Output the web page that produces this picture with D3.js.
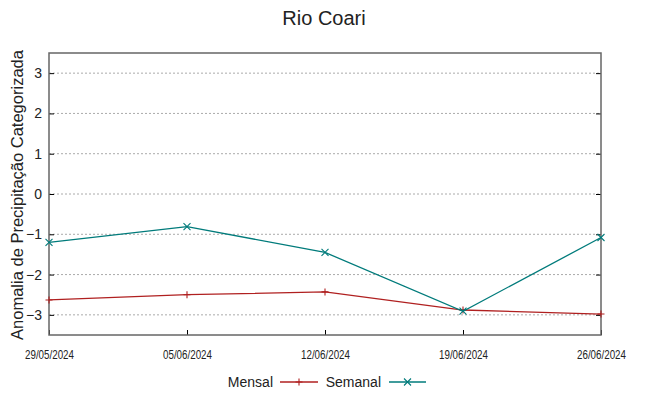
<!DOCTYPE html>
<html>
<head>
    <meta charset="utf-8">
    <title>Rio Coari</title>
    <style>
        body { margin: 0; background: white; }
        text { font-family: "Liberation Sans", Arial, sans-serif; fill: #222; }
    </style>
    <script src="https://d3js.org/d3.v7.min.js"></script>
</head>
<body>
<svg id="chart" width="649" height="396"></svg>
<script>
    // data
    var dates = ["29/05/2024", "05/06/2024", "12/06/2024", "19/06/2024", "26/06/2024"];
    var mensal = [-2.63, -2.5, -2.43, -2.88, -2.98];
    var semanal = [-1.2, -0.81, -1.45, -2.91, -1.08];
    var yTicks = [-3, -2, -1, 0, 1, 2, 3];

    var margin = {top: 53, right: 48, bottom: 61, left: 49};
    var svg = d3.select("#chart");
    var width = 649 - margin.left - margin.right,
        height = 396 - margin.top - margin.bottom;

    var g = svg.append("g")
        .attr("transform", "translate(" + margin.left + "," + margin.top + ")");

    var x = d3.scalePoint().domain(dates).range([0, width]);
    var y = d3.scaleLinear().domain([-3.5, 3.5]).range([height, 0]);

    // grid
    g.selectAll(".grid").data(yTicks).join("line")
        .attr("class", "grid")
        .attr("x1", 0).attr("x2", width)
        .attr("y1", d => y(d)).attr("y2", d => y(d))
        .attr("stroke", "#aaa").attr("stroke-width", 1)
        .attr("stroke-dasharray", "2,2");

    // y axis (ticks inside, mirrored)
    var yl = g.append("g").call(d3.axisLeft(y).tickValues(yTicks).tickSize(-5).tickPadding(7).tickFormat(d3.format("d")));
    yl.select(".domain").remove();
    yl.selectAll("text").style("font-size", "14px").attr("fill", "#222");
    yl.selectAll("line").attr("stroke", "#000");
    var yr = g.append("g").attr("transform", "translate(" + width + ",0)")
        .call(d3.axisRight(y).tickValues(yTicks).tickSize(-5).tickFormat(""));
    yr.select(".domain").remove();
    yr.selectAll("line").attr("stroke", "#000");

    // x axis
    var xb = g.append("g").attr("transform", "translate(0," + height + ")")
        .call(d3.axisBottom(x).tickSize(-5).tickPadding(15));
    xb.select(".domain").remove();
    xb.selectAll("text").style("font-size", "13px").attr("fill", "#222")
        .attr("textLength", 49).attr("lengthAdjust", "spacingAndGlyphs");
    xb.selectAll("line").attr("stroke", "#000");

    // frame
    g.append("rect").attr("width", width).attr("height", height)
        .attr("fill", "none").attr("stroke", "#666").attr("stroke-width", 1.5);

    var line = d3.line().x((d, i) => x(dates[i])).y(d => y(d));

    function plus(sel, cx, cy, r) {
        sel.append("path").attr("d", "M" + (cx - r) + "," + cy + "H" + (cx + r) + "M" + cx + "," + (cy - r) + "V" + (cy + r));
    }
    function cross(sel, cx, cy, r) {
        sel.append("path").attr("d", "M" + (cx - r) + "," + (cy - r) + "L" + (cx + r) + "," + (cy + r) + "M" + (cx - r) + "," + (cy + r) + "L" + (cx + r) + "," + (cy - r));
    }

    var series = [
        {name: "Mensal", values: mensal, color: "#b02020", mark: plus},
        {name: "Semanal", values: semanal, color: "#007b7b", mark: cross}
    ];

    series.forEach(function (s) {
        g.append("path").datum(s.values)
            .attr("d", line)
            .attr("fill", "none").attr("stroke", s.color).attr("stroke-width", 1.3);
        var m = g.append("g").attr("stroke", s.color).attr("stroke-width", 1.1).attr("fill", "none");
        s.values.forEach(function (v, i) { s.mark(m, x(dates[i]), y(v), 3.5); });
    });

    // title
    svg.append("text").attr("x", 324).attr("y", 25).attr("text-anchor", "middle")
        .style("font-size", "20px").text("Rio Coari");

    // y label
    svg.append("text").attr("transform", "translate(23," + (margin.top + height / 2 + 1) + ") rotate(-90)")
        .attr("text-anchor", "middle").style("font-size", "16.5px")
        .text("Anomalia de Precipitação Categorizada");

    // legend
    var leg = svg.append("g");
    var legY = 382;
    var legItems = [
        {s: series[0], textEnd: 273, x1: 280, x2: 318},
        {s: series[1], textEnd: 381, x1: 389, x2: 426}
    ];
    legItems.forEach(function (it) {
        leg.append("text").attr("x", it.textEnd).attr("y", legY + 5).attr("text-anchor", "end")
            .style("font-size", "14px").text(it.s.name);
        leg.append("line").attr("x1", it.x1).attr("x2", it.x2).attr("y1", legY).attr("y2", legY)
            .attr("stroke", it.s.color).attr("stroke-width", 1.3);
        var m = leg.append("g").attr("stroke", it.s.color).attr("stroke-width", 1.1);
        it.s.mark(m, (it.x1 + it.x2) / 2, legY, 3.5);
    });
</script>
</body>
</html>
